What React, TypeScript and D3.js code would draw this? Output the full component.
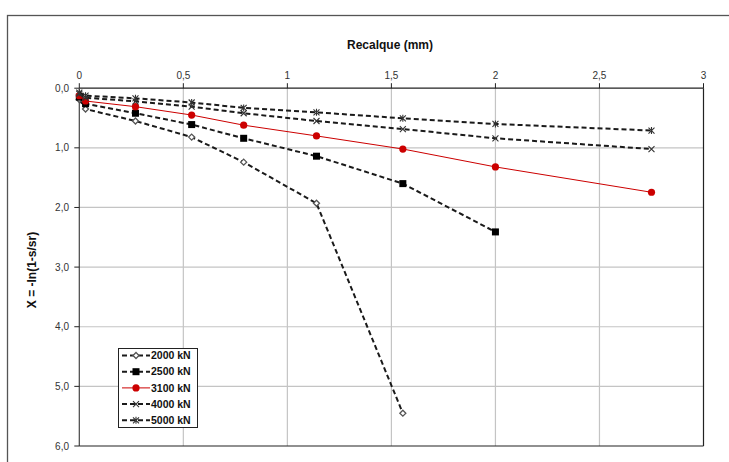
import React from "react";
import * as d3 from "d3";

const settlement = [0, 0.03, 0.27, 0.54, 0.79, 1.14, 1.555, 2.0, 2.75];
const s2000 = [0.19, 0.35, 0.55, 0.82, 1.24, 1.93, 5.45];
const s2500 = [0.15, 0.26, 0.42, 0.61, 0.84, 1.14, 1.6, 2.41];
const s3100 = [0.125, 0.215, 0.31, 0.45, 0.62, 0.8, 1.02, 1.32, 1.745];
const s4000 = [0.095, 0.16, 0.22, 0.31, 0.42, 0.55, 0.685, 0.84, 1.02];
const s5000 = [0.075, 0.125, 0.17, 0.24, 0.33, 0.405, 0.505, 0.6, 0.71];
const seriesNames = ["2000 kN", "2500 kN", "3100 kN", "4000 kN", "5000 kN"];
const xTicks = [0, 0.5, 1, 1.5, 2, 2.5, 3];
const yTicks = [0, 1, 2, 3, 4, 5, 6];

const W = 729, H = 462;
const left = 79.3, right = 703.5, top = 88.2, bottom = 446;
const FONT = "'Liberation Sans', Arial, sans-serif";

const fmt = (v: number) => (Number.isInteger(v) ? String(v) : String(v).replace(".", ","));
const fmtY = (v: number) => v.toFixed(1).replace(".", ",");

type Marker = "diamond" | "square" | "circle" | "x" | "star";

function MarkerShape({ type, cx, cy }: { type: Marker; cx: number; cy: number }) {
  switch (type) {
    case "diamond":
      return (
        <path d={`M${cx},${cy - 3}L${cx + 3},${cy}L${cx},${cy + 3}L${cx - 3},${cy}Z`} fill="#fff" stroke="#555" strokeWidth={1.3} />
      );
    case "square":
      return <rect x={cx - 3.5} y={cy - 3.5} width={7} height={7} fill="#000" />;
    case "circle":
      return <circle cx={cx} cy={cy} r={3.6} fill="#cc0000" />;
    case "x":
      return (
        <path d={`M${cx - 3},${cy - 3}L${cx + 3},${cy + 3}M${cx - 3},${cy + 3}L${cx + 3},${cy - 3}`} stroke="#333" strokeWidth={1.1} fill="none" />
      );
    case "star":
      return (
        <path d={`M${cx - 3},${cy - 3}L${cx + 3},${cy + 3}M${cx - 3},${cy + 3}L${cx + 3},${cy - 3}M${cx},${cy - 3.5}L${cx},${cy + 3.5}`} stroke="#333" strokeWidth={1.1} fill="none" />
      );
  }
  return null;
}

export default function App() {
  const x = d3.scaleLinear().domain([0, 3]).range([left, right]);
  const y = d3.scaleLinear().domain([0, 6]).range([top, bottom]);

  const series: { name: string; vals: number[]; marker: Marker; color: string; dash: string; width: number }[] = [
    { name: seriesNames[0], vals: s2000, marker: "diamond", color: "#1a1a1a", dash: "5,3", width: 2 },
    { name: seriesNames[1], vals: s2500, marker: "square", color: "#1a1a1a", dash: "5,3", width: 2 },
    { name: seriesNames[2], vals: s3100, marker: "circle", color: "#cc0000", dash: "", width: 1 },
    { name: seriesNames[3], vals: s4000, marker: "x", color: "#1a1a1a", dash: "5,3", width: 2 },
    { name: seriesNames[4], vals: s5000, marker: "star", color: "#1a1a1a", dash: "5,3", width: 2 },
  ];

  const line = d3
    .line<[number, number]>()
    .x((d) => x(d[0]))
    .y((d) => y(d[1]));

  const legX = 118, legY = 348, legW = 79, legH = 79;

  return (
    <svg width={W} height={H} style={{ position: "absolute", left: 0, top: 0, background: "#fff" }} fontFamily={FONT}>
      <rect x={7.5} y={15.5} width={W + 10} height={H + 10} fill="#fff" stroke="#555" strokeWidth={1.3} />

      {/* gridlines */}
      {xTicks.slice(1, -1).map((t) => (
        <line key={"gx" + t} x1={x(t)} x2={x(t)} y1={top} y2={bottom} stroke="#c4c4c4" strokeWidth={1.2} />
      ))}
      {yTicks.slice(1, -1).map((t) => (
        <line key={"gy" + t} x1={left} x2={right} y1={y(t)} y2={y(t)} stroke="#c4c4c4" strokeWidth={1.2} />
      ))}

      {/* plot border */}
      <line x1={left} x2={right} y1={top} y2={top} stroke="#222" strokeWidth={1.2} />
      <line x1={left} x2={left} y1={top} y2={bottom} stroke="#444" strokeWidth={1.2} />
      <line x1={right} x2={right} y1={top} y2={bottom} stroke="#222" strokeWidth={1.2} />
      <line x1={left} x2={right} y1={bottom} y2={bottom} stroke="#222" strokeWidth={1.2} />

      {/* ticks */}
      {xTicks.map((t) => (
        <g key={"tx" + t}>
          <line x1={x(t)} x2={x(t)} y1={top} y2={top - 5} stroke="#222" strokeWidth={1} />
          <text x={x(t)} y={79} textAnchor="middle" fontSize={10} fill="#333">
            {fmt(t)}
          </text>
        </g>
      ))}
      {yTicks.map((t) => (
        <g key={"ty" + t}>
          <line x1={left} x2={left - 5} y1={y(t)} y2={y(t)} stroke="#222" strokeWidth={1} />
          <text x={69} y={y(t) + 3.5} textAnchor="end" fontSize={10} fill="#333">
            {fmtY(t)}
          </text>
        </g>
      ))}

      {/* titles */}
      <text x={390} y={49} textAnchor="middle" fontSize={12} fontWeight="bold" fill="#111">
        Recalque (mm)
      </text>
      <text transform={`translate(36,270) rotate(-90)`} textAnchor="middle" fontSize={12} fontWeight="bold" fill="#111">
        X = -ln(1-s/sr)
      </text>

      {/* series */}
      {series.map((s) => {
        const pts: [number, number][] = s.vals.map((v, i) => [settlement[i], v]);
        return (
          <g key={s.name}>
            <path d={line(pts) || ""} fill="none" stroke={s.color} strokeWidth={s.width} strokeDasharray={s.dash || undefined} />
            {pts.map((p, i) => (
              <MarkerShape key={i} type={s.marker} cx={x(p[0])} cy={y(p[1])} />
            ))}
          </g>
        );
      })}

      {/* legend */}
      <rect x={legX + 0.5} y={legY + 0.5} width={legW} height={legH} fill="#fff" stroke="#222" strokeWidth={1} />
      {series.map((s, i) => {
        const cy = legY + 7.5 + i * 16.2;
        return (
          <g key={"lg" + s.name}>
            <line x1={legX + 4} x2={legX + 32} y1={cy} y2={cy} stroke={s.color} strokeWidth={s.width} strokeDasharray={s.dash || undefined} />
            <MarkerShape type={s.marker} cx={legX + 18} cy={cy} />
            <text x={legX + 33} y={cy + 3.7} fontSize={10.5} fontWeight="bold" fill="#111">
              {s.name}
            </text>
          </g>
        );
      })}
    </svg>
  );
}
